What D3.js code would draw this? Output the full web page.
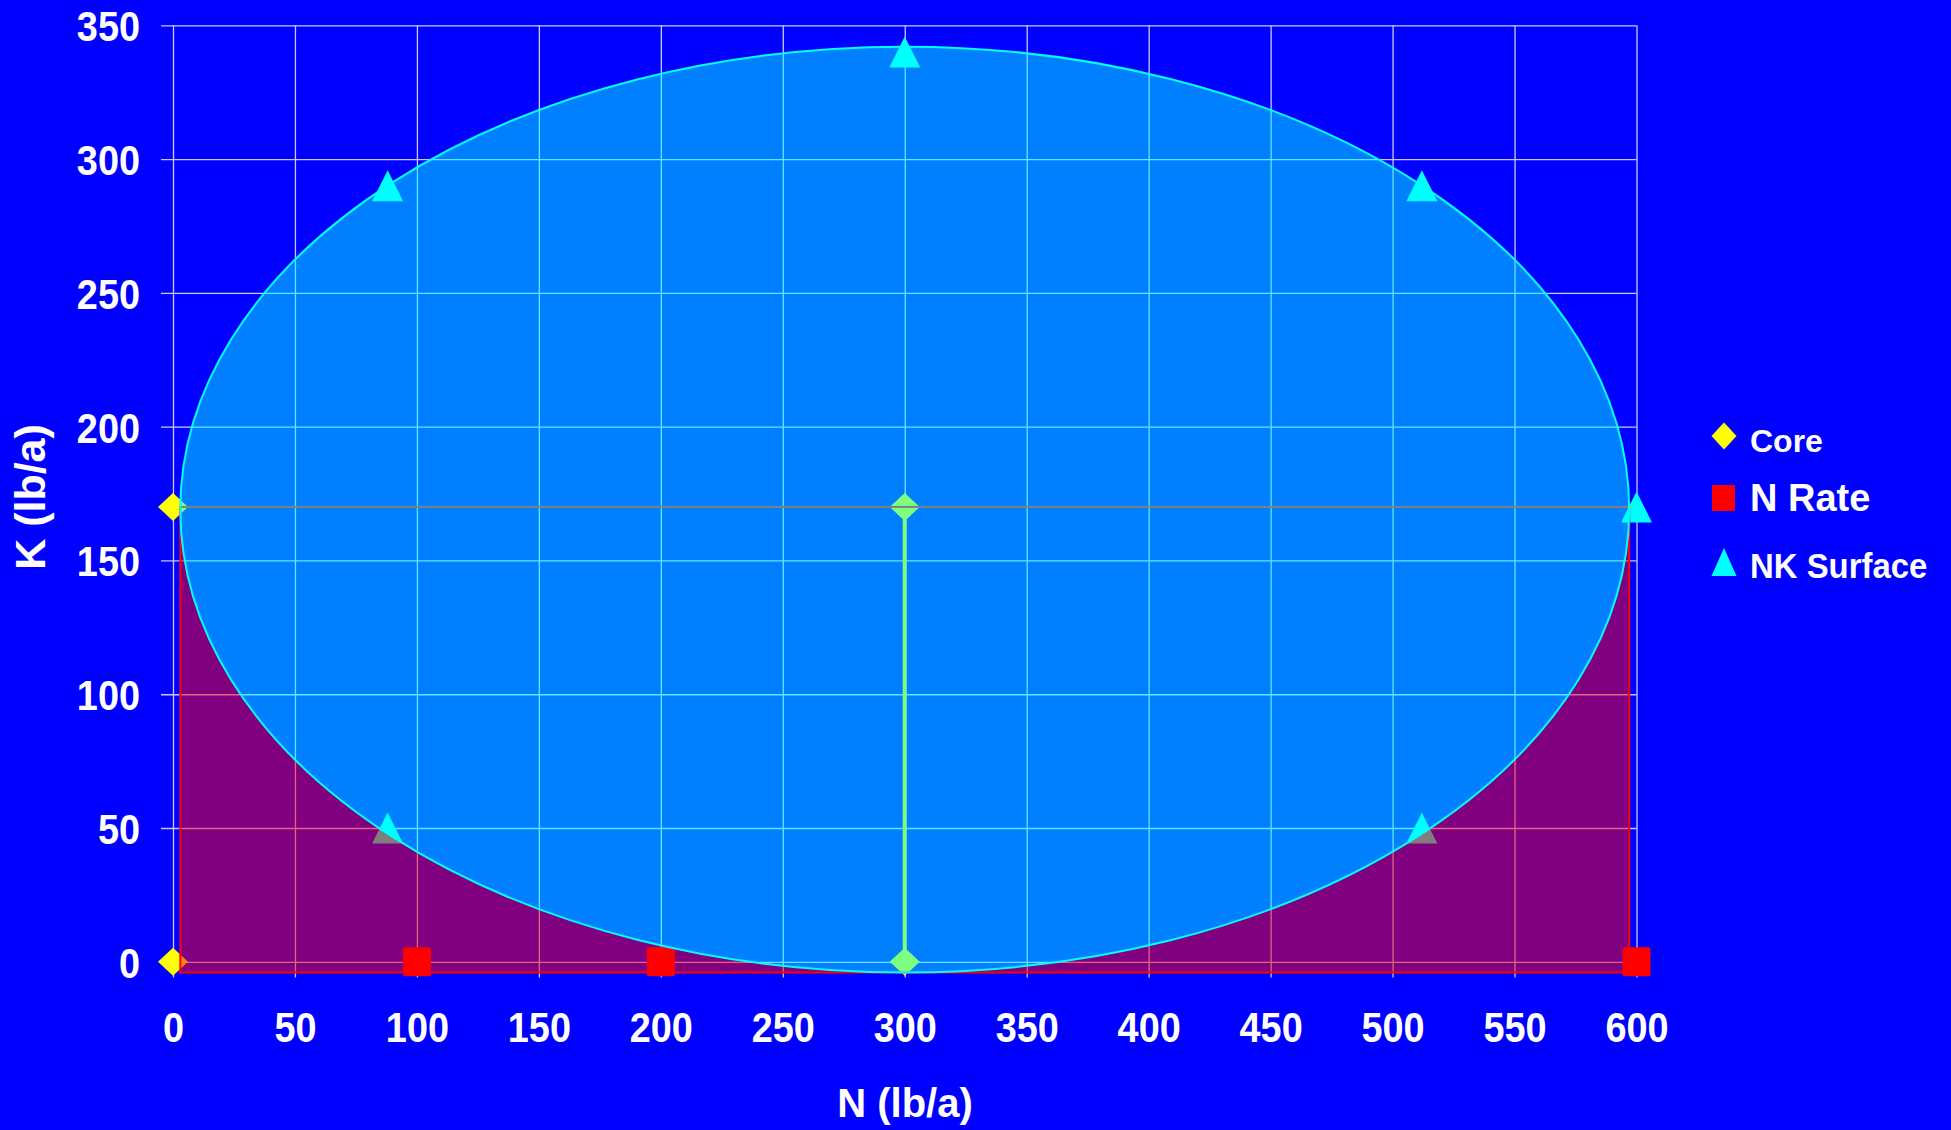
<!DOCTYPE html>
<html>
<head>
<meta charset="utf-8">
<script src="https://cdn.jsdelivr.net/npm/d3@7"></script>
<style>
  body { margin: 0; background: #0000ff; }
  text { font-family: Arial, "Liberation Sans", sans-serif; font-weight: bold; fill: white; }
</style>
</head>
<body>
<div id="chart"></div>
<script>

// tick values
const xTicks = [0, 50, 100, 150, 200, 250, 300, 350, 400, 450, 500, 550, 600];
const yTicks = [0, 50, 100, 150, 200, 250, 300, 350];

// series
const coreN = [0, 300, 0, 300];
const coreK = [170, 170, 0, 0];
const coreLineN = [300, 300];
const coreLineK = [170, 0];

const nRateN = [100, 200, 600];
const nRateK = [0, 0, 0];

const nkN = [88, 300, 512, 600, 88, 512];
const nkK = [290, 340, 290, 170, 50, 50];

const legendNames = ["Core", "N Rate", "NK Surface"];

// drawn overlay shapes (data units)
const ellipseC = [300, 169];
const ellipseR = [297, 173];
const rectN = [3, 597];
const rectK = [-4, 170];


function drawChart() {
    const width = 1951, height = 1130;

    const svg = d3.select("#chart")
        .append("svg")
        .attr("width", width)
        .attr("height", height);

    svg.append("rect")
        .attr("width", width)
        .attr("height", height)
        .attr("fill", "#0000ff");

    const x = d3.scaleLinear().domain([0, 600]).range([173, 1636.5]);
    const y = d3.scaleLinear().domain([0, 350]).range([961.8, 25.3]);

    const bottom = y(-4);
    const gridColour = "#c8c8ff";

    // gridlines
    const gx = svg.append("g")
        .attr("transform", `translate(0,${bottom + 5})`)
        .call(d3.axisBottom(x).tickValues(xTicks).tickSize(-(bottom + 5 - y(350))).tickFormat(""));
    gx.select(".domain").remove();
    gx.selectAll("line").attr("stroke", gridColour).attr("stroke-width", 1.3);

    const gy = svg.append("g")
        .attr("transform", `translate(${x(0) - 12},0)`)
        .call(d3.axisLeft(y).tickValues(yTicks).tickSize(-(x(600) - x(0) + 12)).tickFormat(""));
    gy.select(".domain").remove();
    gy.selectAll("line").attr("stroke", gridColour).attr("stroke-width", 1.3);

    // tick labels
    const sx = 0.88;
    const lx = svg.append("g")
        .attr("transform", `translate(0,${y(0)})`)
        .call(d3.axisBottom(x).tickValues(xTicks).tickSize(0));
    lx.select(".domain").remove();
    lx.selectAll("text")
        .attr("fill", "white")
        .attr("y", 80)
        .attr("dy", null)
        .attr("transform", `scale(${sx},1)`)
        .style("font-size", "43px")
        .style("font-family", "Arial, 'Liberation Sans', sans-serif")
        .style("font-weight", "bold");

    const ly = svg.append("g")
        .attr("transform", `translate(${x(0)},0)`)
        .call(d3.axisLeft(y).tickValues(yTicks).tickSize(0));
    ly.select(".domain").remove();
    ly.selectAll("text")
        .attr("fill", "white")
        .attr("x", -33 / sx)
        .attr("dy", "0.36em")
        .attr("transform", `scale(${sx},1)`)
        .style("font-size", "43px")
        .style("font-family", "Arial, 'Liberation Sans', sans-serif")
        .style("font-weight", "bold");

    // marker shapes
    const diamond = (w, h) => `M0,${-h / 2}L${w / 2},0L0,${h / 2}L${-w / 2},0Z`;
    const triangle = (w, h) => `M0,${-h / 2}L${w / 2},${h / 2}L${-w / 2},${h / 2}Z`;

    // Core line
    const line = d3.line().x(d => x(d[0])).y(d => y(d[1]));
    svg.append("path")
        .datum(d3.zip(coreLineN, coreLineK))
        .attr("fill", "none")
        .attr("stroke", "#ffff00")
        .attr("stroke-width", 4)
        .attr("d", line);

    // markers
    svg.selectAll("path.core")
        .data(d3.zip(coreN, coreK))
        .enter()
        .append("path")
        .attr("class", "core")
        .attr("transform", d => `translate(${x(d[0])},${y(d[1])})`)
        .attr("d", diamond(30, 28))
        .attr("fill", "#ffff00");

    svg.selectAll("rect.nrate")
        .data(d3.zip(nRateN, nRateK))
        .enter()
        .append("rect")
        .attr("class", "nrate")
        .attr("x", d => x(d[0]) - 14)
        .attr("y", d => y(d[1]) - 14.5)
        .attr("width", 28)
        .attr("height", 29)
        .attr("rx", 2)
        .attr("fill", "#ff0000");

    svg.selectAll("path.nk")
        .data(d3.zip(nkN, nkK))
        .enter()
        .append("path")
        .attr("class", "nk")
        .attr("transform", d => `translate(${x(d[0])},${y(d[1])})`)
        .attr("d", triangle(31, 31))
        .attr("fill", "#00ffff");

    // red region (outside the ellipse)
    const ex = x(ellipseC[0]), ey = y(ellipseC[1]);
    const erx = x(ellipseC[0] + ellipseR[0]) - ex;
    const ery = ey - y(ellipseC[1] + ellipseR[1]);
    const r0 = x(rectN[0]), r1 = x(rectN[1]), t0 = y(rectK[1]), t1 = y(rectK[0]);

    svg.append("clipPath")
        .attr("id", "rectClip")
        .append("rect")
        .attr("x", r0)
        .attr("y", t0)
        .attr("width", r1 - r0)
        .attr("height", t1 - t0);

    const ellipsePath = `M${ex - erx},${ey}A${erx},${ery} 0 1 0 ${ex + erx},${ey}A${erx},${ery} 0 1 0 ${ex - erx},${ey}Z`;
    svg.append("path")
        .attr("d", `M${r0},${t0}H${r1}V${t1}H${r0}Z` + ellipsePath)
        .attr("fill-rule", "evenodd")
        .attr("clip-path", "url(#rectClip)")
        .attr("fill", "#ff0000")
        .attr("fill-opacity", 0.5);
    svg.append("rect")
        .attr("x", r0)
        .attr("y", t0)
        .attr("width", r1 - r0)
        .attr("height", t1 - t0)
        .attr("fill", "none")
        .attr("stroke", "#ff0000")
        .attr("stroke-width", 2);

    // ellipse
    svg.append("ellipse")
        .attr("cx", ex)
        .attr("cy", ey)
        .attr("rx", erx)
        .attr("ry", ery)
        .attr("fill", "#00ffff")
        .attr("fill-opacity", 0.5)
        .attr("stroke", "#00ffff")
        .attr("stroke-width", 2);

    // axis titles
    svg.append("text")
        .attr("x", 905)
        .attr("y", 1117)
        .attr("text-anchor", "middle")
        .style("font-size", "40px")
        .text("N (lb/a)");

    svg.append("text")
        .attr("transform", "translate(45,497) rotate(-90)")
        .attr("text-anchor", "middle")
        .style("font-size", "43px")
        .text("K (lb/a)");

    // legend
    const legendY = [436, 498, 562];
    const legendBase = [452, 511, 578];
    const legendSize = [32, 38, 35];
    const legendScale = [1, 1, 0.94];
    const legend = svg.append("g");

    legend.append("path")
        .attr("transform", `translate(1724,${legendY[0]})`)
        .attr("d", diamond(25, 27))
        .attr("fill", "#ffff00");
    legend.append("rect")
        .attr("x", 1712)
        .attr("y", legendY[1] - 13)
        .attr("width", 23)
        .attr("height", 26)
        .attr("fill", "#ff0000");
    legend.append("path")
        .attr("transform", `translate(1724,${legendY[2]})`)
        .attr("d", triangle(25, 28))
        .attr("fill", "#00ffff");

    legend.selectAll("text")
        .data(legendNames)
        .enter()
        .append("text")
        .attr("transform", (d, i) => `translate(1750,${legendBase[i]}) scale(${legendScale[i]},1)`)
        .style("font-size", (d, i) => legendSize[i] + "px")
        .text(d => d);
}

drawChart();
</script>
</body>
</html>
